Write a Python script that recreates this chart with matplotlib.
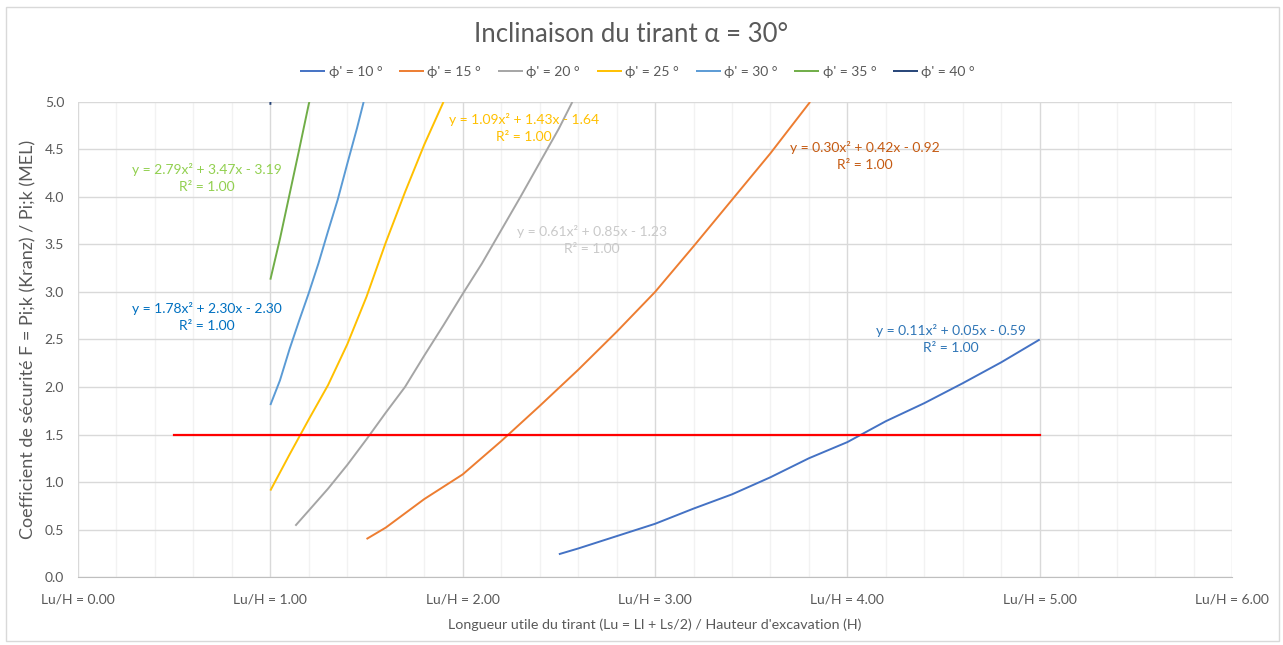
import numpy as np
import matplotlib
matplotlib.use('Agg')
import matplotlib.pyplot as plt
from matplotlib.patches import Rectangle
from matplotlib.ticker import MultipleLocator, FuncFormatter

plt.rcParams['font.family'] = ['Lato', 'DejaVu Sans']

# phi' = 10
x10 = [2.5, 2.6, 2.8, 3.0, 3.2, 3.4, 3.6, 3.8, 4.0, 4.2, 4.4, 4.6, 4.8, 5.0]
y10 = [0.24, 0.30, 0.43, 0.56, 0.72, 0.87, 1.05, 1.25, 1.42, 1.64, 1.83, 2.04, 2.26, 2.50]
# phi' = 15
x15 = [1.5, 1.6, 1.8, 2.0, 2.2, 2.4, 2.6, 2.8, 3.0, 3.2, 3.4, 3.6, 3.806]
y15 = [0.40, 0.52, 0.82, 1.08, 1.43, 1.80, 2.18, 2.58, 3.00, 3.48, 3.97, 4.46, 5.0]
# phi' = 20
x20 = [1.13, 1.2, 1.3, 1.4, 1.5, 1.6, 1.7, 1.8, 1.9, 2.0, 2.1, 2.2, 2.3, 2.4, 2.5, 2.57]
y20 = [0.54, 0.70, 0.93, 1.18, 1.45, 1.73, 2.00, 2.33, 2.65, 2.98, 3.30, 3.65, 4.00, 4.36, 4.72, 5.0]
# phi' = 25
x25 = [1.0, 1.1, 1.2, 1.3, 1.4, 1.5, 1.6, 1.7, 1.8, 1.9]
y25 = [0.91, 1.29, 1.66, 2.02, 2.45, 2.95, 3.52, 4.05, 4.55, 5.0]
# phi' = 30
x30 = [1.0, 1.05, 1.1, 1.15, 1.2, 1.25, 1.3, 1.35, 1.4, 1.45, 1.485]
y30 = [1.81, 2.07, 2.40, 2.70, 2.99, 3.30, 3.64, 3.97, 4.35, 4.72, 5.0]
# phi' = 35
x35 = [1.0, 1.05, 1.1, 1.15, 1.2, 1.203]
y35 = [3.13, 3.56, 4.03, 4.50, 4.98, 5.0]
# phi' = 40
x40 = [1.0, 1.002]
y40 = [4.97, 5.1]

# F = 1.5 limit
x_lim = [0.5, 5.0]
y_lim = [1.5, 1.5]

series = [
    ("ϕ' = 10 °", x10, y10, '#4472C4'),
    ("ϕ' = 15 °", x15, y15, '#ED7D31'),
    ("ϕ' = 20 °", x20, y20, '#A5A5A5'),
    ("ϕ' = 25 °", x25, y25, '#FFC000'),
    ("ϕ' = 30 °", x30, y30, '#5B9BD5'),
    ("ϕ' = 35 °", x35, y35, '#70AD47'),
    ("ϕ' = 40 °", x40, y40, '#264478'),
]

# trendline labels: text, x, y, colour
trend_labels = [
    ("y = 2.79x² + 3.47x - 3.19\nR² = 1.00", 0.67, 4.20, '#92D050'),
    ("y = 1.78x² + 2.30x - 2.30\nR² = 1.00", 0.67, 2.74, '#0070C0'),
    ("y = 1.09x² + 1.43x - 1.64\nR² = 1.00", 2.32, 4.73, '#FFC000'),
    ("y = 0.61x² + 0.85x - 1.23\nR² = 1.00", 2.67, 3.55, '#C9C9C9'),
    ("y = 0.30x² + 0.42x - 0.92\nR² = 1.00", 4.09, 4.43, '#C55A11'),
    ("y = 0.11x² + 0.05x - 0.59\nR² = 1.00", 4.54, 2.51, '#2E75B6'),
]

fig = plt.figure(figsize=(12.83, 6.45), dpi=100)
ax = fig.add_axes([0.0608, 0.1054, 0.8995, 0.7365])

for name, xs, ys, c in series:
    ax.plot(xs, ys, color=c, lw=1.4, label=name, solid_capstyle='butt')
ax.plot(x_lim, y_lim, color='#FF0000', lw=1.6)

for txt, tx, ty, c in trend_labels:
    ax.text(tx, ty, txt, color=c, fontsize=10, ha='center', va='center', linespacing=1.5)

ax.set_xlim(0, 6)
ax.set_ylim(0, 5)
ax.xaxis.set_major_locator(MultipleLocator(1))
ax.xaxis.set_minor_locator(MultipleLocator(0.2))
ax.yaxis.set_major_locator(MultipleLocator(0.5))
ax.xaxis.set_major_formatter(FuncFormatter(lambda v, p: 'Lu/H = %.2f' % v))
ax.yaxis.set_major_formatter(FuncFormatter(lambda v, p: '%.1f' % v))
ax.grid(which='major', color='#D9D9D9', lw=1.0)
ax.grid(which='minor', axis='x', color='#F2F2F2', lw=1.0)
ax.set_axisbelow(True)
ax.tick_params(which='both', length=0, labelsize=10, labelcolor='#595959')
ax.tick_params(axis='x', pad=12)
ax.tick_params(axis='y', pad=10)
for s in ['top', 'right', 'left']:
    ax.spines[s].set_visible(False)
ax.spines['bottom'].set_color('#BFBFBF')

ax.set_xlabel("Longueur utile du tirant (Lu = Ll + Ls/2) / Hauteur d'excavation (H)",
              fontsize=10.3, color='#595959', labelpad=9)
ax.set_ylabel("Coefficient de sécurité F = Pi;k (Kranz) / Pi;k (MEL)",
              fontsize=13, color='#595959', labelpad=6)

fig.text(0.492, 0.947, "Inclinaison du tirant α = 30°", ha='center', va='center',
         fontsize=18.5, color='#595959')

fig.legend(loc='center', bbox_to_anchor=(0.497, 0.889), ncol=7, frameon=False,
           fontsize=10, handlelength=1.8, handletextpad=0.25, columnspacing=1.2,
           labelcolor='#595959')

fig.patches.append(Rectangle((0.005, 0.006), 0.992, 0.983, transform=fig.transFigure,
                             fill=False, edgecolor='#D9D9D9', lw=1.0))

plt.savefig('out.png', dpi=100, facecolor='white')
